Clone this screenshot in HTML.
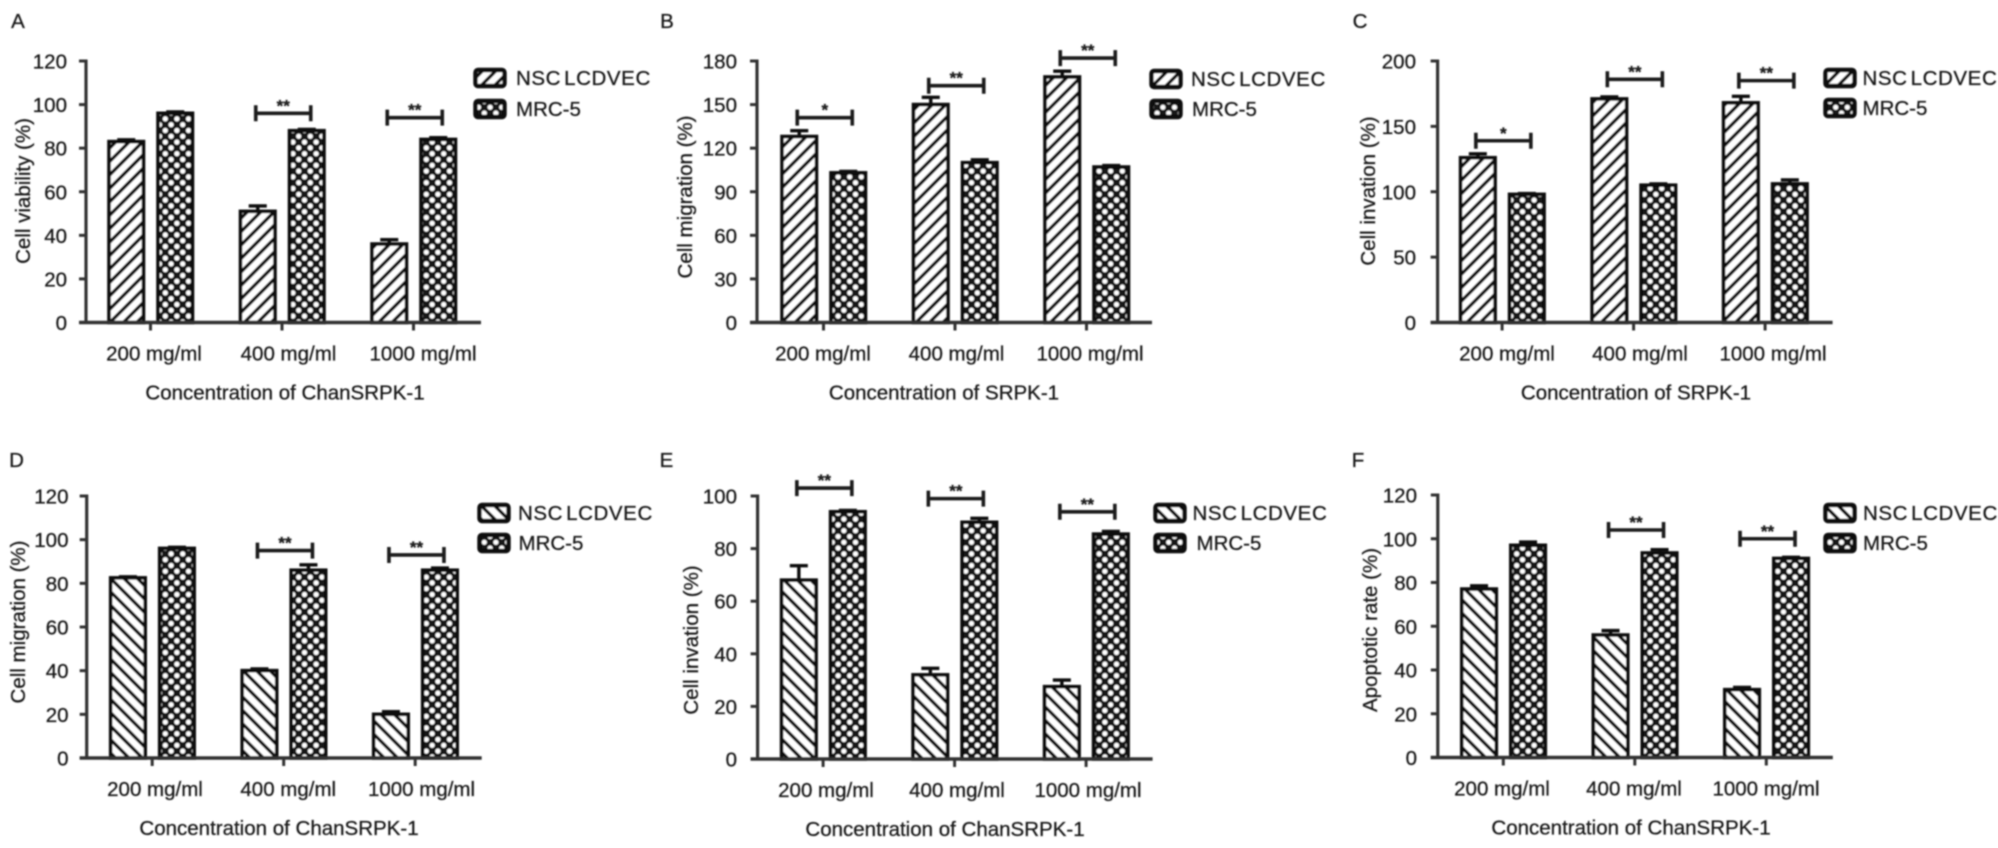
<!DOCTYPE html>
<html lang="en">
<head>
<meta charset="utf-8">
<title>Six panel bar charts</title>
<style>
html,body{margin:0;padding:0;background:#fff;width:1998px;height:848px;overflow:hidden}
svg{display:block}
text{font-family:"Liberation Sans",Arial,sans-serif;font-size:20.5px;fill:#1a1a1a;stroke:#1a1a1a;stroke-width:0.3px}
</style>
</head>
<body>
<svg id="figure" xmlns="http://www.w3.org/2000/svg" width="1998" height="848" viewBox="0 0 1998 848">
<defs>
<filter id="soft" x="0" y="0" width="100%" height="100%"><feGaussianBlur stdDeviation="0.9"/></filter>
<pattern id="hatch-up" patternUnits="userSpaceOnUse" width="9.5" height="9.5" patternTransform="rotate(45)">
<rect width="9.5" height="9.5" fill="#fff"/><rect x="0" y="0" width="3.4" height="9.5" fill="#111"/>
</pattern>
<pattern id="hatch-down" patternUnits="userSpaceOnUse" width="9.5" height="9.5" patternTransform="rotate(-45)">
<rect width="9.5" height="9.5" fill="#fff"/><rect x="0" y="0" width="3.4" height="9.5" fill="#111"/>
</pattern>
<pattern id="dots" patternUnits="userSpaceOnUse" width="11.6" height="11.6">
<rect width="11.6" height="11.6" fill="#161616"/>
<circle cx="2.9" cy="2.9" r="2.6" fill="#fff"/><circle cx="8.7" cy="8.7" r="2.6" fill="#fff"/>
</pattern>
</defs>
<g id="root" filter="url(#soft)"></g>
</svg>
<script>
const categories = ['200 mg/ml', '400 mg/ml', '1000 mg/ml'];
const seriesNames = ['NSCLCDVEC', 'MRC-5'];

const ticksA = [0, 20, 40, 60, 80, 100, 120];
const nsclcA = [83, 51, 36];
const mrcA = [96, 88, 84];
const nsclcErrA = [0.8, 2.5, 2];
const mrcErrA = [0.6, 0.6, 0.8];
const sigLevelA = [null, 96, 94];
const sigStarsA = ['', '**', '**'];

const ticksB = [0, 30, 60, 90, 120, 150, 180];
const nsclcB = [128, 150, 169];
const mrcB = [103, 110, 107];
const nsclcErrB = [4, 5, 4];
const mrcErrB = [1, 2, 1];
const sigLevelB = [141, 163, 182];
const sigStarsB = ['*', '**', '**'];

const ticksC = [0, 50, 100, 150, 200];
const nsclcC = [126, 171, 168];
const mrcC = [98, 105, 106];
const nsclcErrC = [3, 1.5, 5];
const mrcErrC = [0.6, 1, 3];
const sigLevelC = [139, 186, 185];
const sigStarsC = ['*', '**', '**'];

const ticksD = [0, 20, 40, 60, 80, 100, 120];
const nsclcD = [82.5, 40, 20];
const mrcD = [96, 86, 86];
const nsclcErrD = [0.5, 0.8, 1.2];
const mrcErrD = [0.5, 2.5, 1];
const sigLevelD = [null, 95, 93];
const sigStarsD = ['', '**', '**'];

const ticksE = [0, 20, 40, 60, 80, 100];
const nsclcE = [68, 32, 27.5];
const mrcE = [94, 90, 85.5];
const nsclcErrE = [5.5, 2.5, 2.5];
const mrcErrE = [0.5, 1.5, 1];
const sigLevelE = [103, 99, 94];
const sigStarsE = ['**', '**', '**'];

const ticksF = [0, 20, 40, 60, 80, 100, 120];
const nsclcF = [77, 56, 31];
const mrcF = [97, 93.5, 91];
const nsclcErrF = [1.5, 2, 1];
const mrcErrF = [1.5, 1.5, 0.5];
const sigLevelF = [null, 104, 100];
const sigStarsF = ['', '**', '**'];

const panels = [
  {id:'a', letter:'A', yTitle:'Cell viability (%)', xTitle:'Concentration of ChanSRPK-1', hatch:'hatch-up',
   ticks:ticksA, s1:nsclcA, s2:mrcA, e1:nsclcErrA, e2:mrcErrA, sig:sigLevelA, stars:sigStarsA,
   ax:86, y0:322.5, yTop:61, barStart:23, catX:154, catStep:134.5, titleX:285, yTitleX:23, yTitleY:191, tickRight:67,
   letterX:18, letterY:28, legBox:474, legTop:70, legGap:31, leg1:516, leg2:516},
  {id:'b', letter:'B', yTitle:'Cell migration (%)', xTitle:'Concentration of SRPK-1', hatch:'hatch-up',
   ticks:ticksB, s1:nsclcB, s2:mrcB, e1:nsclcErrB, e2:mrcErrB, sig:sigLevelB, stars:sigStarsB,
   ax:757, y0:322.5, yTop:61, barStart:25, catX:823, catStep:133.5, titleX:944, yTitleX:685, yTitleY:197, tickRight:737,
   letterX:667, letterY:28, legBox:1150, legTop:71, legGap:30, leg1:1191, leg2:1192},
  {id:'c', letter:'C', yTitle:'Cell invation (%)', xTitle:'Concentration of SRPK-1', hatch:'hatch-up',
   ticks:ticksC, s1:nsclcC, s2:mrcC, e1:nsclcErrC, e2:mrcErrC, sig:sigLevelC, stars:sigStarsC,
   ax:1437.6, y0:322.5, yTop:61, barStart:23, catX:1507, catStep:133, titleX:1636, yTitleX:1368, yTitleY:191, tickRight:1416,
   letterX:1360, letterY:28, legBox:1824, legTop:70, legGap:30, leg1:1862.5, leg2:1862.5},
  {id:'d', letter:'D', yTitle:'Cell migration (%)', xTitle:'Concentration of ChanSRPK-1', hatch:'hatch-down',
   ticks:ticksD, s1:nsclcD, s2:mrcD, e1:nsclcErrD, e2:mrcErrD, sig:sigLevelD, stars:sigStarsD,
   ax:86.7, y0:758, yTop:496, barStart:24, catX:155, catStep:133.25, titleX:279, yTitleX:18, yTitleY:622, tickRight:68.5,
   letterX:16.5, letterY:467, legBox:478, legTop:505, legGap:30, leg1:518, leg2:518.5},
  {id:'e', letter:'E', yTitle:'Cell invation (%)', xTitle:'Concentration of ChanSRPK-1', hatch:'hatch-down',
   ticks:ticksE, s1:nsclcE, s2:mrcE, e1:nsclcErrE, e2:mrcErrE, sig:sigLevelE, stars:sigStarsE,
   ax:757.6, y0:759, yTop:496, barStart:24, catX:826, catStep:131, titleX:945, yTitleX:691, yTitleY:640, tickRight:737,
   letterX:666.5, letterY:467, legBox:1154, legTop:505, legGap:30, leg1:1192.5, leg2:1196.5},
  {id:'f', letter:'F', yTitle:'Apoptotic rate (%)', xTitle:'Concentration of ChanSRPK-1', hatch:'hatch-down',
   ticks:ticksF, s1:nsclcF, s2:mrcF, e1:nsclcErrF, e2:mrcErrF, sig:sigLevelF, stars:sigStarsF,
   ax:1437.8, y0:757.5, yTop:495, barStart:24, catX:1502, catStep:132, titleX:1631, yTitleX:1370, yTitleY:630, tickRight:1417,
   letterX:1358, letterY:467, legBox:1824, legTop:505, legGap:30, leg1:1863, leg2:1863}
];

const NS = 'http://www.w3.org/2000/svg';
const BAR_W = 34.5, BAR_PITCH = 49, GROUP_STEP = 131.5;
const AXIS = '#333', INK = '#0c0c0c';

function make(parent, tag, attrs, txt) {
  const el = document.createElementNS(NS, tag);
  for (const k in attrs) el.setAttribute(k, attrs[k]);
  if (txt !== undefined) el.textContent = txt;
  parent.appendChild(el);
  return el;
}
function line(parent, x1, y1, x2, y2, color, w) {
  return make(parent, 'line', {x1: x1, y1: y1, x2: x2, y2: y2, stroke: color, 'stroke-width': w});
}

function drawPanel(p) {
  const root = document.getElementById('root');
  const g = make(root, 'g', {});
  
  

  const maxVal = p.ticks[p.ticks.length - 1];
  const yScale = v => p.y0 - (v / maxVal) * (p.y0 - p.yTop);
  const barLeft = (group, series) => p.ax + p.barStart + group * GROUP_STEP + series * BAR_PITCH;
  const barCenter = (group, series) => barLeft(group, series) + BAR_W / 2;

  const letter = make(g, 'text', {x: p.letterX, y: p.letterY, 'text-anchor': 'middle'}, p.letter);
  
  

  const yTitle = make(g, 'text', {x: p.yTitleX + 7, y: p.yTitleY, 'text-anchor': 'middle',
    transform: 'rotate(-90 ' + (p.yTitleX + 7) + ' ' + p.yTitleY + ')'}, p.yTitle);
  
  

  const xTitle = make(g, 'text', {x: p.titleX, y: p.y0 + 77, 'text-anchor': 'middle'}, p.xTitle);
  
  

  p.ticks.forEach(t => {
    const tickMark = line(g, p.ax - 7, yScale(t), p.ax, yScale(t), AXIS, 3);
    
    
    const tickLabel = make(g, 'text', {x: p.tickRight, y: yScale(t) + 7.5, 'text-anchor': 'end'}, String(t));
    
    
  });

  categories.forEach((c, i) => {
    [p.s1, p.s2].forEach((vals, s) => {
      const errs = s === 0 ? p.e1 : p.e2;
      const top = yScale(vals[i]);
      const cx = barCenter(i, s);
      const errTop = yScale(vals[i] + errs[i]);
      const stem = line(g, cx, top, cx, errTop, INK, 3.4);
      
      
      const cap = line(g, cx - 9, errTop, cx + 9, errTop, INK, 3.4);
      
      
      const bar = make(g, 'rect', {x: barLeft(i, s), y: top, width: BAR_W, height: p.y0 - top,
        fill: 'url(#' + (s === 0 ? p.hatch : 'dots') + ')', stroke: INK, 'stroke-width': 3.6});
      
      
    });

    const tick = line(g, p.ax + p.barStart + BAR_W + 7 + i * GROUP_STEP, p.y0, p.ax + p.barStart + BAR_W + 7 + i * GROUP_STEP, p.y0 + 8, AXIS, 3);
    
    

    const catLabel = make(g, 'text', {x: p.catX + i * p.catStep, y: p.y0 + 38, 'text-anchor': 'middle'}, c);
    
    

    if (p.sig[i] !== null) {
      const yb = yScale(p.sig[i]);
      const xl = barCenter(i, 0) - 2, xr = barCenter(i, 1) + 4;
      const bracket = make(g, 'path', {d: 'M' + xl + ' ' + (yb - 8) + 'V' + (yb + 8) + 'M' + xl + ' ' + yb + 'H' + xr + 'M' + xr + ' ' + (yb - 8) + 'V' + (yb + 8),
        fill: 'none', stroke: '#1c1c1c', 'stroke-width': 3.6});
      
      
      const stars = make(g, 'text', {x: (xl + xr) / 2, y: yb - 2, 'text-anchor': 'middle', style: 'font-size:17px;font-weight:bold'}, p.stars[i]);
      
      
    }
  });

  const yAxis = line(g, p.ax, p.yTop - 1.5, p.ax, p.y0, AXIS, 3.2);
  
  
  const xAxis = line(g, p.ax - 7, p.y0, p.ax - 7 + 402, p.y0, AXIS, 3.4);
  
  

  seriesNames.forEach((name, s) => {
    const top = p.legTop + s * p.legGap;
    const entry = make(g, 'g', {});
    
    
    const swatch = make(entry, 'rect', {x: p.legBox + 1.5, y: top, width: 29, height: 16, rx: 2.5,
      fill: 'url(#' + (s === 0 ? p.hatch : 'dots') + ')', stroke: INK, 'stroke-width': 4.4});
    
    
    const label = make(entry, 'text', {x: s === 0 ? p.leg1 : p.leg2, y: top + 15});
    
    
    if (s === 0) {
      label.setAttribute('style', 'letter-spacing:0.6px');
      make(label, 'tspan', {}, name.slice(0, 3));
      make(label, 'tspan', {dx: 3}, name.slice(3));
    } else {
      label.textContent = name;
    }
  });
}

panels.forEach(drawPanel);
</script>
</body>
</html>
